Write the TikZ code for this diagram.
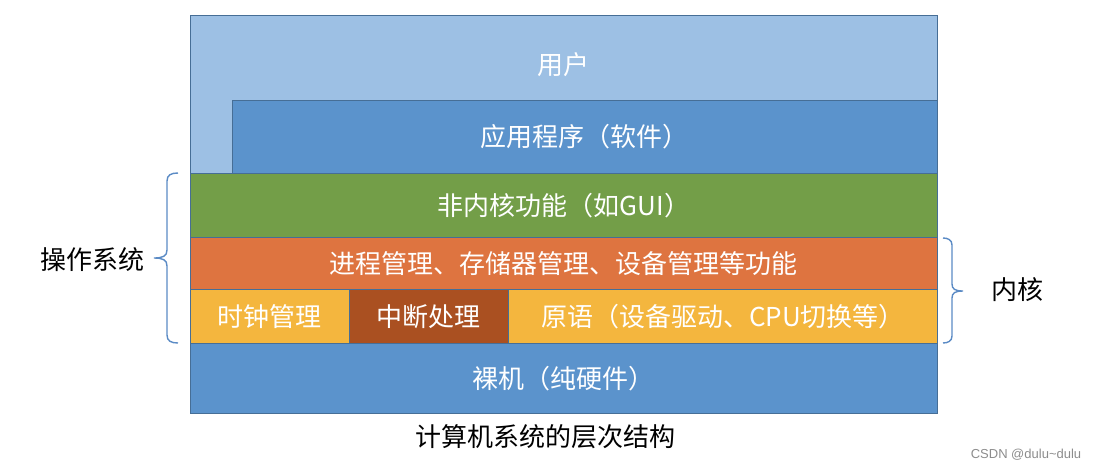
\documentclass[tikz,border=0pt]{standalone}
\usepackage{fontspec}
\setmainfont{Noto Sans CJK SC}
\newfontfamily\markfont{Liberation Sans}
\usepackage{tikz}
\definecolor{userblue}{RGB}{157,192,228}
\definecolor{layerblue}{RGB}{91,147,204}
\definecolor{nkgreen}{RGB}{115,158,72}
\definecolor{kernorange}{RGB}{222,116,64}
\definecolor{primyellow}{RGB}{244,182,62}
\definecolor{intbrown}{RGB}{170,80,33}
\definecolor{edgeblue}{RGB}{70,110,150}
\definecolor{bracecol}{RGB}{91,139,197}

\begin{document}
\begin{tikzpicture}[x=1pt,y=-1pt,
  layer/.style={draw=edgeblue,line width=0.8pt,anchor=north west,inner sep=0pt,
    text=white,font=\fontsize{26}{30}\selectfont},
  sidelabel/.style={font=\fontsize{26}{30}\selectfont},
  bracket/.style={draw=bracecol,line width=1.4pt}]
  \useasboundingbox (0,0) rectangle (1100,472);
  % user area behind the application layer
  \filldraw[fill=userblue,draw=edgeblue,line width=0.8pt] (190,15) rectangle (937,173);
  \node[text=white,font=\fontsize{26}{30}\selectfont] (user) at (563.5,65) {用户};
  \node[layer,fill=layerblue,minimum width=705,minimum height=73] (app) at (232,100) {应用程序（软件）};
  \node[layer,fill=nkgreen,minimum width=747,minimum height=64] (nonkern) at (190,173) {非内核功能（如GUI）};
  \node[layer,fill=kernorange,minimum width=747,minimum height=52] (kernfunc) at (190,237) {进程管理、存储器管理、设备管理等功能};
  \node[layer,fill=primyellow,minimum width=159,minimum height=54] (clock) at (190,289) {时钟管理};
  \node[layer,fill=intbrown,minimum width=159,minimum height=54] (intr) at (349,289) {中断处理};
  \node[layer,fill=primyellow,minimum width=429,minimum height=54] (prim) at (508,289) {原语（设备驱动、CPU切换等）};
  \node[layer,fill=layerblue,minimum width=747,minimum height=70] (bare) at (190,343) {裸机（纯硬件）};
  \node[sidelabel] (caption) at (545,437) {计算机系统的层次结构};
  % braces
  \coordinate (ostop) at (178,173);
  \coordinate (ostip) at (154,258);
  \coordinate (osbot) at (178,343);
  \draw[bracket] (ostop) .. controls (171,173) and (167,175) .. (167,181) -- (167,250)
    .. controls (167,256) and (163,258) .. (ostip)
    .. controls (163,258) and (167,260) .. (167,266) -- (167,335)
    .. controls (167,341) and (171,343) .. (osbot);
  \coordinate (kntop) at (943,238);
  \coordinate (kntip) at (963,291);
  \coordinate (knbot) at (943,343);
  \draw[bracket] (kntop) .. controls (948,238) and (952,240) .. (952,245) -- (952,284)
    .. controls (952,289) and (955,291) .. (kntip)
    .. controls (955,291) and (952,293) .. (952,298) -- (952,336)
    .. controls (952,341) and (948,343) .. (knbot);
  \node[sidelabel] (os) at (92,260) {操作系统};
  \node[sidelabel] (kernel) at (1017,290) {内核};
  \node[text=black!45,font=\markfont\fontsize{13}{15}\selectfont] (mark) at (1026,455) {CSDN @dulu\textasciitilde dulu};
\end{tikzpicture}
\end{document}
